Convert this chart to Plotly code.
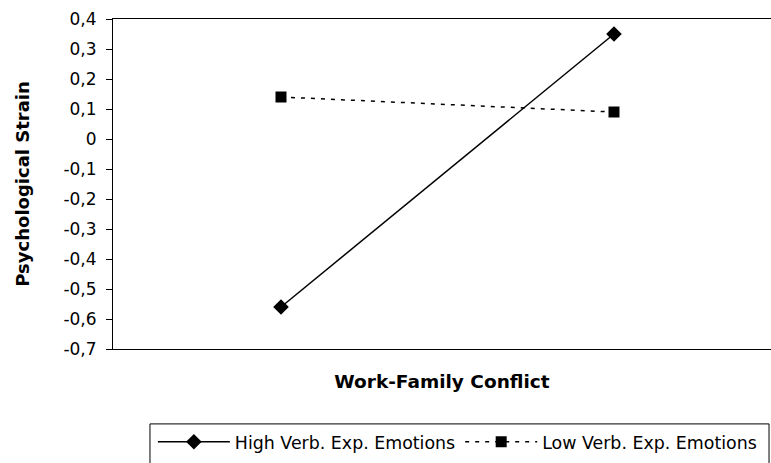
import plotly.graph_objects as go

categories = [0, 1]
high_verb = [-0.56, 0.35]
low_verb = [0.14, 0.09]
tick_vals = [-0.7, -0.6, -0.5, -0.4, -0.3, -0.2, -0.1, 0, 0.1, 0.2, 0.3, 0.4]
tick_text = ["-0,7", "-0,6", "-0,5", "-0,4", "-0,3", "-0,2", "-0,1", "0", "0,1", "0,2", "0,3", "0,4"]

fig = go.Figure()
fig.add_trace(go.Scatter(
    x=categories, y=high_verb, mode="lines+markers", name="High Verb. Exp. Emotions",
    line=dict(color="black", width=1.5),
    marker=dict(symbol="diamond", size=12, color="black"),
))
fig.add_trace(go.Scatter(
    x=categories, y=low_verb, mode="lines+markers", name="Low Verb. Exp. Emotions",
    line=dict(color="black", width=1.5, dash="4px,6px"),
    marker=dict(symbol="square", size=11, color="black"),
))

# legend frame (box runs past the bottom edge, as in the reference)
fig.add_shape(
    type="rect", xref="paper", yref="paper",
    x0=0.0562, x1=0.997, y0=-0.40, y1=-0.227,
    line=dict(color="black", width=1), fillcolor="rgba(0,0,0,0)", layer="above",
)

fig.update_layout(
    width=771, height=463,
    margin=dict(l=113, r=0, t=19, b=114, autoexpand=False),
    paper_bgcolor="white", plot_bgcolor="white",
    font=dict(family="DejaVu Sans, sans-serif", color="black", size=17),
    showlegend=True,
    legend=dict(
        orientation="h", x=0.0606, xanchor="left", y=-0.227, yanchor="top",
        borderwidth=0, bgcolor="rgba(0,0,0,0)",
        font=dict(size=17.4), itemwidth=72,
    ),
    xaxis=dict(
        range=[-0.5045, 1.4715], showticklabels=False, ticks="",
        showgrid=False, zeroline=False, showline=True, linecolor="black", linewidth=1,
        mirror=True, automargin=False,
        title=dict(text="<b>Work-Family Conflict</b>", font=dict(size=18.5), standoff=26),
    ),
    yaxis=dict(
        range=[-0.7, 0.4], tickvals=tick_vals, ticktext=tick_text,
        ticks="outside", ticklen=6, tickcolor="black", ticklabelstandoff=6,
        showgrid=False, zeroline=False, showline=True, linecolor="black", linewidth=1,
        tickfont=dict(size=17), automargin=False,
        title=dict(text="<b>Psychological Strain</b>", font=dict(size=18), standoff=29),
    ),
)

fig.write_html(
    "out.html",
    config={"displayModeBar": False},
    post_script="document.body.style.margin='0';document.body.style.overflow='hidden';",
)
